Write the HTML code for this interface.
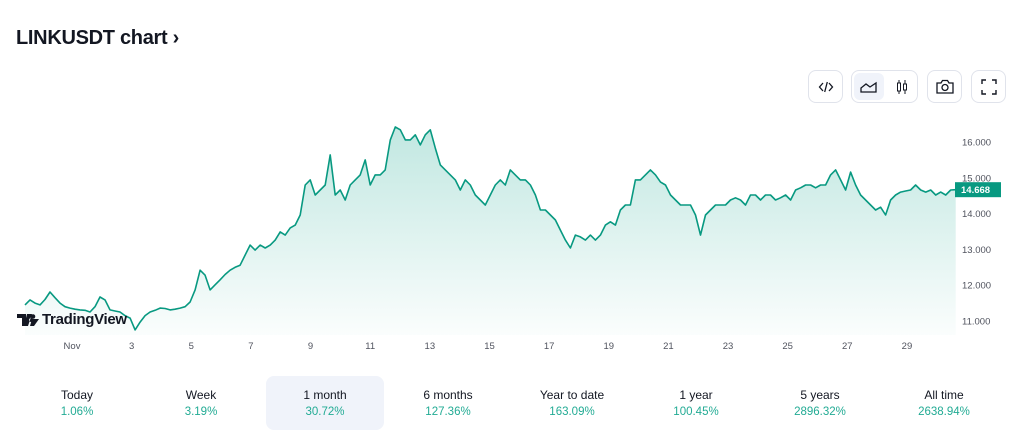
<!DOCTYPE html>
<html><head><meta charset="utf-8">
<style>
body{margin:0;width:1024px;height:439px;background:#fff;font-family:"Liberation Sans","DejaVu Sans",sans-serif;overflow:hidden;position:relative}
.title{position:absolute;left:16px;top:27px;font-size:20px;font-weight:bold;color:#131722;letter-spacing:-0.3px}
.btn{position:absolute;top:70px;height:33px;border:1px solid #e0e3eb;border-radius:8px;background:#fff;box-sizing:border-box;display:flex;align-items:center;justify-content:center}
.tab{position:absolute;top:376px;width:118px;height:54px;text-align:center;border-radius:8px}
.tab .l{margin-top:12px;font-size:12px;color:#131722}
.tab .p{margin-top:4px;font-size:11.5px;color:#22ab94}
</style></head><body>
<div class="title">LINKUSDT chart ›</div>
<div class="btn" style="left:808px;width:35px">
<svg width="16" height="14" viewBox="0 0 16 14"><path d="M5 3L1.5 7L5 11M11 3l3.5 4L11 11M9.3 2L6.7 12" fill="none" stroke="#131722" stroke-width="1.3"/></svg></div>
<div class="btn" style="left:851px;width:67px">
<div style="width:30px;height:27px;background:#f0f3fa;border-radius:6px;display:flex;align-items:center;justify-content:center;margin-right:4px"><svg width="18" height="12"><path d="M1 11V7l5-4 4 3 6-4v9z" fill="none" stroke="#131722" stroke-width="1.3"/></svg></div>
<div style="width:28px;display:flex;justify-content:center"><svg width="14" height="16"><path d="M4 1v14M10 1v14" stroke="#131722"/><rect x="2.5" y="4" width="3" height="8" fill="#fff" stroke="#131722"/><rect x="8.5" y="5" width="3" height="6" fill="#fff" stroke="#131722"/></svg></div>
</div>
<div class="btn" style="left:927px;width:35px"><svg width="18" height="15"><path d="M1 4h4l1.5-2.5h5L13 4h4v10H1z" fill="none" stroke="#131722" stroke-width="1.3"/><circle cx="9" cy="8.5" r="3" fill="none" stroke="#131722" stroke-width="1.3"/></svg></div>
<div class="btn" style="left:971px;width:35px"><svg width="16" height="16"><path d="M1 5V1h4M11 1h4v4M15 11v4h-4M5 15H1v-4" fill="none" stroke="#131722" stroke-width="1.4"/></svg></div>

<svg id="chart" style="position:absolute;left:0;top:0" width="1024" height="360">
<defs><linearGradient id="g" x1="0" y1="0" x2="0" y2="1"><stop offset="0" stop-color="#22ab94" stop-opacity="0.28"/><stop offset="1" stop-color="#22ab94" stop-opacity="0.02"/></linearGradient></defs>
<g id="layer"></g>
</svg>
<div style="position:absolute;left:17px;top:311px;display:flex;align-items:center">
<svg width="22" height="12"><path d="M0 0h9v12H5V4H0zM10 0h5l-4 12H7z M14 4a2 2 0 1 0 .1 0z" fill="#131722"/><circle cx="16" cy="2.5" r="2.3" fill="#131722"/><path d="M15 5h7l-5 7h-4z" fill="#131722"/></svg>
<span style="font-size:15px;font-weight:bold;color:#131722;margin-left:3px;letter-spacing:-0.3px">TradingView</span></div>

<div class="tab" style="left:18px"><div class="l">Today</div><div class="p">1.06%</div></div>
<div class="tab" style="left:142px"><div class="l">Week</div><div class="p">3.19%</div></div>
<div class="tab" style="left:266px;background:#f0f3fa"><div class="l">1 month</div><div class="p">30.72%</div></div>
<div class="tab" style="left:389px"><div class="l">6 months</div><div class="p">127.36%</div></div>
<div class="tab" style="left:513px"><div class="l">Year to date</div><div class="p">163.09%</div></div>
<div class="tab" style="left:637px"><div class="l">1 year</div><div class="p">100.45%</div></div>
<div class="tab" style="left:761px"><div class="l">5 years</div><div class="p">2896.32%</div></div>
<div class="tab" style="left:885px"><div class="l">All time</div><div class="p">2638.94%</div></div>

<script>
const prices=[11.45,11.59,11.50,11.45,11.60,11.81,11.65,11.50,11.40,11.36,11.33,11.31,11.30,11.25,11.40,11.67,11.59,11.31,11.28,11.25,11.15,11.08,10.75,10.97,11.15,11.25,11.30,11.36,11.35,11.31,11.33,11.36,11.40,11.53,11.87,12.42,12.28,11.87,12.01,12.15,12.30,12.42,12.50,12.56,12.84,13.12,12.98,13.12,13.04,13.12,13.26,13.49,13.40,13.60,13.68,13.96,14.80,14.94,14.52,14.66,14.80,15.64,14.52,14.66,14.38,14.80,14.94,15.08,15.50,14.80,15.08,15.08,15.22,16.06,16.42,16.34,16.06,16.06,16.20,15.92,16.20,16.34,15.83,15.36,15.22,15.08,14.94,14.66,14.94,14.80,14.52,14.38,14.24,14.52,14.80,14.94,14.80,15.22,15.08,14.94,14.94,14.80,14.52,14.10,14.10,13.96,13.82,13.54,13.26,13.04,13.40,13.35,13.26,13.40,13.26,13.40,13.68,13.77,13.68,14.10,14.24,14.24,14.94,14.94,15.08,15.22,15.08,14.88,14.80,14.52,14.38,14.24,14.24,14.24,13.96,13.40,13.96,14.10,14.24,14.24,14.24,14.38,14.44,14.38,14.24,14.52,14.52,14.38,14.52,14.52,14.38,14.44,14.52,14.38,14.66,14.72,14.80,14.80,14.72,14.80,14.80,15.08,15.22,14.94,14.66,15.16,14.80,14.52,14.38,14.24,14.10,14.18,13.96,14.38,14.52,14.60,14.63,14.66,14.80,14.66,14.60,14.66,14.52,14.60,14.52,14.66,14.668];
const startDay=-0.577;
const stepDay=0.1678;
const yTicks=[16,15,14,13,12,11];
const xTicks=[1,3,5,7,9,11,13,15,17,19,21,23,25,27,29];
const xTickLabels=["Nov","3","5","7","9","11","13","15","17","19","21","23","25","27","29"];
const lastLabel="14.668";

const NS="http://www.w3.org/2000/svg";
const layer=document.getElementById('layer');
function xs(d){return 72+(d-1)*29.82;}
function ys(v){return 142+(16-v)*35.8;}
const bottom=335;
let pts=prices.map((v,i)=>[xs(startDay+i*stepDay),ys(v)]);
let line=pts.map((p,i)=>(i?'L':'M')+p[0].toFixed(1)+' '+p[1].toFixed(1)).join('');
const area=document.createElementNS(NS,'path');


area.setAttribute('d',line+'L'+pts[pts.length-1][0].toFixed(1)+' '+bottom+'L'+pts[0][0].toFixed(1)+' '+bottom+'Z');
area.setAttribute('fill','url(#g)');
layer.appendChild(area);
const pl=document.createElementNS(NS,'path');


pl.setAttribute('d',line);
pl.setAttribute('fill','none');pl.setAttribute('stroke','#089981');pl.setAttribute('stroke-width','1.6');pl.setAttribute('stroke-linejoin','round');
layer.appendChild(pl);
yTicks.forEach(v=>{
 const t=document.createElementNS(NS,'text');
 
 
 t.setAttribute('x',962);t.setAttribute('y',ys(v)+3.5);
 t.setAttribute('font-size','9.5');t.setAttribute('fill','#50535e');
 t.textContent=v.toFixed(3);layer.appendChild(t);
});
xTicks.forEach((d,i)=>{
 const t=document.createElementNS(NS,'text');
 
 
 t.setAttribute('x',xs(d));t.setAttribute('y',349);t.setAttribute('text-anchor','middle');
 t.setAttribute('font-size','9.5');t.setAttribute('fill','#50535e');
 t.textContent=xTickLabels[i];layer.appendChild(t);
});
const ly=ys(prices[prices.length-1]);
const r=document.createElementNS(NS,'rect');


r.setAttribute('x',955);r.setAttribute('y',ly-7.5);r.setAttribute('width',46);r.setAttribute('height',15);r.setAttribute('fill','#089981');
layer.appendChild(r);
const lt=document.createElementNS(NS,'text');


lt.setAttribute('x',961);lt.setAttribute('y',ly+3.5);lt.setAttribute('font-size','9.5');lt.setAttribute('font-weight','bold');lt.setAttribute('fill','#fff');
lt.textContent=lastLabel;layer.appendChild(lt);
</script>
</body></html>
